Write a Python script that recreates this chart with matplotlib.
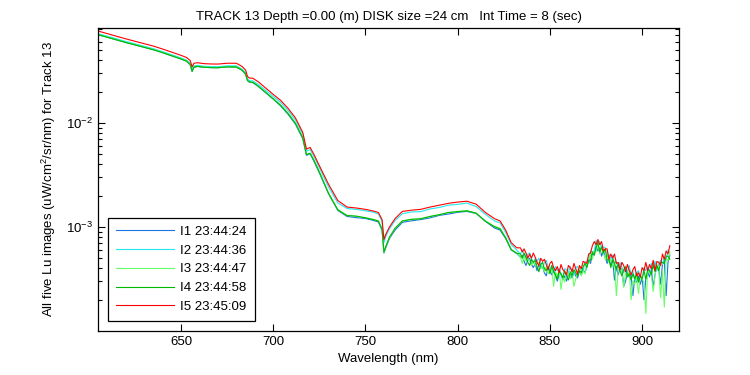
#!/usr/bin/env python3
"""
plot.py - Lu spectra (five images) for one track, log axis, MATLAB look.
"""
import numpy as np
import matplotlib
matplotlib.use("Agg")
import matplotlib.pyplot as plt
from matplotlib.ticker import LogLocator, NullFormatter, FixedLocator

plt.rcParams["font.family"] = ["Liberation Sans", "DejaVu Sans"]
plt.rcParams["mathtext.fontset"] = "custom"
plt.rcParams["mathtext.rm"] = "Liberation Sans"
plt.rcParams["mathtext.it"] = "Liberation Sans"

TITLE = "TRACK 13 Depth =0.00 (m) DISK size =24 cm   Int Time = 8 (sec)"

# wavelength grid (nm): coarse where smooth, 1 nm in the noisy red end
wavelength = [605, 610, 615, 620, 625, 630, 635, 640, 645, 650,
              653, 655, 656, 657, 659, 662, 666,
              670, 675, 680, 683, 685, 686, 687, 689, 692, 696,
              700, 704, 708, 712, 716, 718, 720, 722, 725,
              730, 735, 740, 745, 750, 754, 757, 759, 760, 761, 763, 766,
              770, 775, 780, 785, 790, 795, 800, 805, 810, 815, 820,
              823, 826, 829, 832] + list(range(834, 916))

# log10 of Lu (uW/cm^2/sr/nm)
log_lu_i1 = [-1.150, -1.175, -1.200, -1.225, -1.248, -1.271, -1.295, -1.323, -1.353, -1.384,
             -1.405, -1.440, -1.505, -1.465, -1.456, -1.463, -1.467,
             -1.468, -1.460, -1.462, -1.492, -1.530, -1.592, -1.607, -1.612, -1.650, -1.710,
             -1.770, -1.835, -1.915, -2.010, -2.150, -2.310, -2.295, -2.365, -2.480,
             -2.680, -2.840, -2.898, -2.910, -2.918, -2.935, -2.952, -3.030, -3.250, -3.200, -3.110, -3.030,
             -2.955, -2.940, -2.928, -2.912, -2.888, -2.875, -2.858, -2.850, -2.870, -2.945, -3.010,
             -3.030, -3.110, -3.220, -3.255,
             -3.29, -3.27, -3.33, -3.37, -3.32, -3.30, -3.36, -3.39, -3.35, -3.42,
             -3.36, -3.39, -3.38, -3.44, -3.47, -3.39, -3.42, -3.46, -3.41, -3.47,
             -3.52, -3.45, -3.45, -3.51, -3.47, -3.52, -3.45, -3.46, -3.49, -3.43,
             -3.47, -3.49, -3.42, -3.46, -3.41, -3.44, -3.38, -3.32, -3.35, -3.26,
             -3.27, -3.18, -3.23, -3.20, -3.28, -3.23, -3.29, -3.35, -3.31, -3.37,
             -3.31, -3.51, -3.38, -3.46, -3.40, -3.40, -3.57, -3.52, -3.44, -3.48,
             -3.46, -3.66, -3.48, -3.53, -3.47, -3.55, -3.48, -3.70, -3.49, -3.43,
             -3.48, -3.41, -3.58, -3.45, -3.39, -3.41, -3.55, -3.36, -3.32, -3.66, -3.34, -3.27]

log_lu_i2 = [-1.140, -1.165, -1.190, -1.215, -1.238, -1.261, -1.285, -1.313, -1.343, -1.374,
             -1.395, -1.425, -1.485, -1.450, -1.445, -1.453, -1.457,
             -1.458, -1.450, -1.450, -1.480, -1.515, -1.575, -1.592, -1.595, -1.630, -1.688,
             -1.745, -1.802, -1.878, -1.970, -2.110, -2.270, -2.255, -2.320, -2.430,
             -2.615, -2.768, -2.822, -2.830, -2.844, -2.857, -2.874, -2.945, -3.150, -3.090, -3.018, -2.938,
             -2.872, -2.855, -2.852, -2.826, -2.812, -2.790, -2.782, -2.770, -2.803, -2.878, -2.942,
             -2.960, -3.052, -3.168, -3.222,
             -3.26, -3.22, -3.26, -3.30, -3.26, -3.25, -3.31, -3.35, -3.30, -3.33,
             -3.30, -3.36, -3.40, -3.34, -3.32, -3.38, -3.41, -3.37, -3.44, -3.38,
             -3.42, -3.40, -3.46, -3.49, -3.40, -3.41, -3.44, -3.38, -3.42, -3.46,
             -3.39, -3.38, -3.43, -3.39, -3.42, -3.34, -3.33, -3.32, -3.23, -3.24,
             -3.23, -3.13, -3.16, -3.14, -3.21, -3.19, -3.20, -3.29, -3.26, -3.31,
             -3.27, -3.35, -3.33, -3.40, -3.34, -3.39, -3.44, -3.39, -3.43, -3.37,
             -3.46, -3.43, -3.51, -3.44, -3.42, -3.47, -3.50, -3.39, -3.42, -3.38,
             -3.43, -3.35, -3.40, -3.33, -3.42, -3.35, -3.32, -3.36, -3.29, -3.32, -3.22, -3.25]

log_lu_i3 = [-1.148, -1.173, -1.198, -1.223, -1.246, -1.269, -1.293, -1.321, -1.351, -1.382,
             -1.403, -1.437, -1.500, -1.460, -1.453, -1.461, -1.465,
             -1.466, -1.458, -1.459, -1.489, -1.525, -1.586, -1.602, -1.607, -1.645, -1.705,
             -1.765, -1.827, -1.905, -2.000, -2.140, -2.300, -2.290, -2.355, -2.470,
             -2.675, -2.832, -2.888, -2.897, -2.910, -2.925, -2.940, -3.020, -3.245, -3.190, -3.100, -3.015,
             -2.940, -2.928, -2.918, -2.900, -2.880, -2.862, -2.850, -2.842, -2.868, -2.940, -2.995,
             -3.012, -3.100, -3.215, -3.250,
             -3.29, -3.35, -3.28, -3.33, -3.29, -3.33, -3.37, -3.33, -3.37, -3.34,
             -3.34, -3.40, -3.38, -3.43, -3.38, -3.45, -3.42, -3.40, -3.57, -3.43,
             -3.47, -3.41, -3.60, -3.47, -3.53, -3.44, -3.45, -3.50, -3.42, -3.57,
             -3.50, -3.43, -3.39, -3.47, -3.42, -3.45, -3.35, -3.35, -3.25, -3.31,
             -3.23, -3.24, -3.15, -3.26, -3.20, -3.25, -3.31, -3.25, -3.34, -3.31,
             -3.38, -3.33, -3.66, -3.41, -3.38, -3.43, -3.58, -3.44, -3.48, -3.42,
             -3.70, -3.52, -3.55, -3.48, -3.64, -3.46, -3.50, -3.53, -3.83, -3.40,
             -3.44, -3.46, -3.62, -3.46, -3.36, -3.40, -3.68, -3.42, -3.77, -3.31, -3.32, -3.24]

log_lu_i4 = [-1.150, -1.175, -1.200, -1.225, -1.248, -1.271, -1.295, -1.323, -1.353, -1.384,
             -1.405, -1.438, -1.502, -1.462, -1.455, -1.463, -1.467,
             -1.468, -1.460, -1.461, -1.491, -1.527, -1.588, -1.604, -1.609, -1.648, -1.708,
             -1.768, -1.830, -1.908, -2.003, -2.143, -2.303, -2.292, -2.358, -2.472,
             -2.678, -2.835, -2.890, -2.895, -2.912, -2.928, -2.942, -3.022, -3.240, -3.188, -3.098, -3.012,
             -2.942, -2.925, -2.922, -2.898, -2.882, -2.860, -2.852, -2.845, -2.866, -2.945, -2.998,
             -3.018, -3.105, -3.218, -3.252,
             -3.26, -3.30, -3.25, -3.29, -3.34, -3.37, -3.31, -3.34, -3.32, -3.38,
             -3.43, -3.36, -3.34, -3.40, -3.42, -3.38, -3.45, -3.37, -3.43, -3.46,
             -3.50, -3.42, -3.45, -3.49, -3.42, -3.47, -3.51, -3.43, -3.47, -3.41,
             -3.44, -3.47, -3.42, -3.44, -3.38, -3.35, -3.39, -3.32, -3.32, -3.24,
             -3.27, -3.20, -3.15, -3.24, -3.19, -3.25, -3.21, -3.32, -3.31, -3.39,
             -3.31, -3.35, -3.41, -3.35, -3.42, -3.47, -3.41, -3.38, -3.48, -3.45,
             -3.51, -3.45, -3.50, -3.44, -3.53, -3.47, -3.50, -3.42, -3.50, -3.41,
             -3.42, -3.46, -3.36, -3.43, -3.37, -3.42, -3.34, -3.34, -3.35, -3.28, -3.28, -3.31]

log_lu_i5 = [-1.115, -1.140, -1.165, -1.190, -1.213, -1.236, -1.260, -1.288, -1.318, -1.349,
             -1.370, -1.400, -1.460, -1.425, -1.420, -1.428, -1.432,
             -1.433, -1.425, -1.425, -1.455, -1.490, -1.550, -1.567, -1.570, -1.605, -1.665,
             -1.725, -1.782, -1.858, -1.950, -2.090, -2.250, -2.235, -2.300, -2.410,
             -2.590, -2.745, -2.808, -2.817, -2.830, -2.845, -2.860, -2.930, -3.120, -3.070, -3.000, -2.920,
             -2.850, -2.838, -2.830, -2.808, -2.790, -2.772, -2.760, -2.752, -2.780, -2.860, -2.920,
             -2.942, -3.030, -3.150, -3.200,
             -3.20, -3.24, -3.21, -3.25, -3.30, -3.26, -3.30, -3.25, -3.29, -3.34,
             -3.37, -3.30, -3.33, -3.31, -3.36, -3.41, -3.35, -3.33, -3.39, -3.42,
             -3.38, -3.44, -3.36, -3.41, -3.43, -3.46, -3.37, -3.39, -3.43, -3.35,
             -3.40, -3.45, -3.37, -3.40, -3.33, -3.34, -3.35, -3.26, -3.25, -3.18,
             -3.14, -3.17, -3.12, -3.17, -3.14, -3.23, -3.21, -3.21, -3.31, -3.26,
             -3.30, -3.26, -3.35, -3.34, -3.41, -3.34, -3.37, -3.43, -3.36, -3.42,
             -3.46, -3.41, -3.38, -3.47, -3.44, -3.48, -3.39, -3.42, -3.34, -3.42,
             -3.36, -3.40, -3.32, -3.42, -3.33, -3.34, -3.37, -3.26, -3.31, -3.23, -3.26, -3.18]

labels = ["I1 23:44:24", "I2 23:44:36", "I3 23:44:47", "I4 23:44:58", "I5 23:45:09"]
colors = ["#1a75e0", "#22e8f0", "#66ff66", "#00b800", "#ff0000"]
series = [log_lu_i1, log_lu_i2, log_lu_i3, log_lu_i4, log_lu_i5]

fig = plt.figure(figsize=(7.5, 3.75), dpi=100)
ax = fig.add_axes([0.1307, 0.1173, 0.7747, 0.808])

wl = np.array(wavelength)
for vals, lab, col in zip(series, labels, colors):
    ax.plot(wl, 10.0 ** np.array(vals), color=col, lw=0.8, label=lab)

ax.set_yscale("log")
ax.set_xlim(605, 920)
ax.set_ylim(1e-4, 0.082)

ax.yaxis.set_major_locator(FixedLocator([1e-3, 1e-2]))
ax.yaxis.set_major_formatter(plt.FuncFormatter(
    lambda v, p: r"$10^{%d}$" % int(round(np.log10(v)))))
ax.yaxis.set_minor_locator(LogLocator(base=10, subs=np.arange(2, 10)))
ax.yaxis.set_minor_formatter(NullFormatter())
ax.set_xticks([650, 700, 750, 800, 850, 900])

ax.tick_params(which="both", direction="in", top=True, right=True, labelsize=9.5)
ax.tick_params(which="major", length=5, width=0.8)
ax.tick_params(which="minor", length=3, width=0.8)
for sp in ax.spines.values():
    sp.set_linewidth(0.9)

ax.set_title(TITLE, fontsize=9.5, pad=6)
ax.set_xlabel("Wavelength (nm)", fontsize=9.5, labelpad=4)
ax.set_ylabel("All five Lu images (uW/cm$^2$/sr/nm) for Track 13", fontsize=9.5, labelpad=6)

leg = ax.legend(loc="lower left", bbox_to_anchor=(0.017, 0.033), borderaxespad=0,
                fancybox=False, edgecolor="black", framealpha=1, fontsize=9.5,
                handlelength=4.4, labelspacing=0.5, borderpad=0.6, handletextpad=0.5)
leg.get_frame().set_linewidth(0.9)

plt.savefig("out.png", dpi=100)
